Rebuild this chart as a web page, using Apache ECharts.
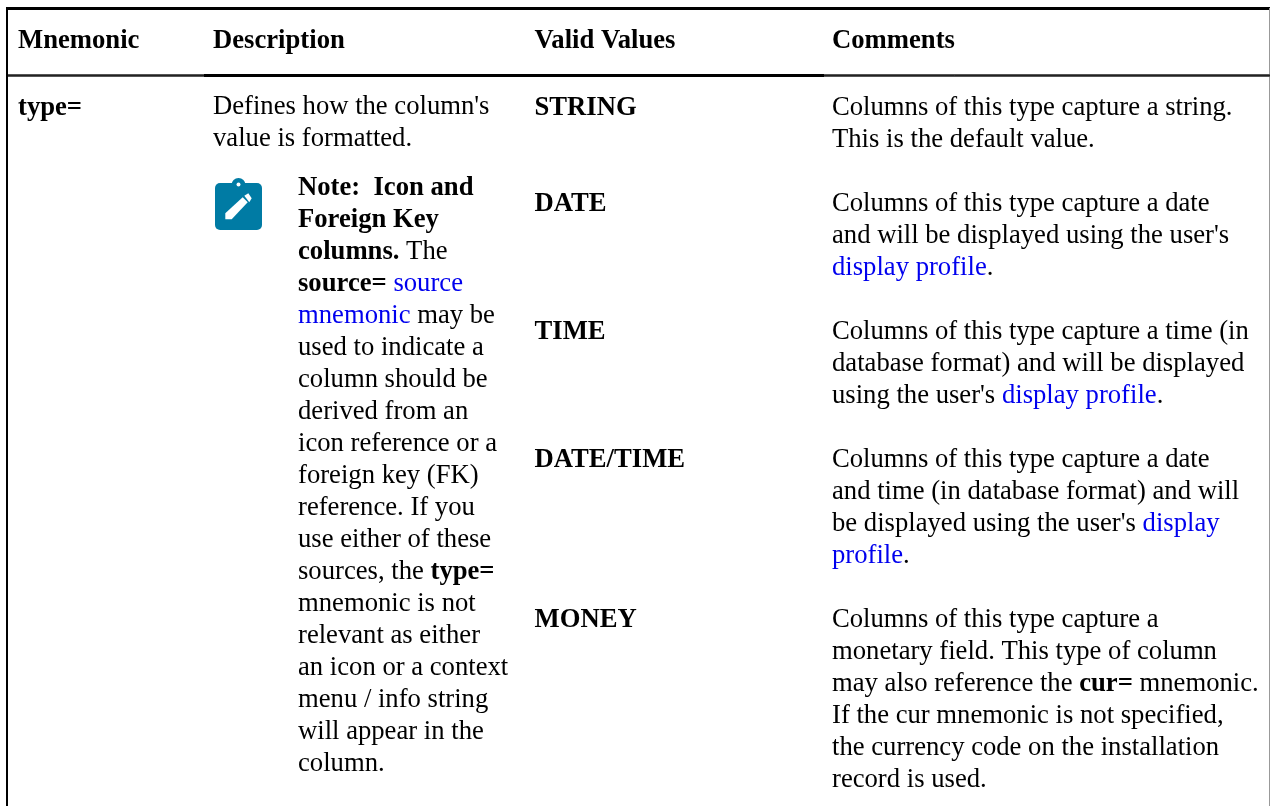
<!DOCTYPE html>
<html>
<head>
<meta charset="utf-8">
<style>
html, body { margin: 0; padding: 0; background: #fff; }
#chart { width: 1270px; height: 806px; }
</style>
<script src="https://cdn.jsdelivr.net/npm/echarts@6/dist/echarts.min.js"></script>
</head>
<body>
<div id="chart"></div>
<script>
var headers = ['Mnemonic', 'Description', 'Valid Values', 'Comments'];
var mnemonicLines = ['{b|type=}'];
var descriptionLines = ["Defines how the column's", 'value is formatted.'];
var noteLines = [
  '{b|Note:  Icon and}', '{b|Foreign Key}', '{b|columns.} The', '{b|source=} {a|source}',
  '{a|mnemonic} may be', 'used to indicate a', 'column should be', 'derived from an',
  'icon reference or a', 'foreign key (FK)', 'reference. If you', 'use either of these',
  'sources, the {b|type=}', 'mnemonic is not', 'relevant as either', 'an icon or a context',
  'menu / info string', 'will appear in the', 'column.'
];
var validValues = ['STRING', 'DATE', 'TIME', 'DATE/TIME', 'MONEY'];
var comments = [
  ['Columns of this type capture a string.', 'This is the default value.'],
  ['Columns of this type capture a date', "and will be displayed using the user's", '{a|display profile}.'],
  ['Columns of this type capture a time (in', 'database format) and will be displayed', "using the user's {a|display profile}."],
  ['Columns of this type capture a date', 'and time (in database format) and will', "be displayed using the user's {a|display}", '{a|profile}.'],
  ['Columns of this type capture a', 'monetary field. This type of column', 'may also reference the {b|cur=} mnemonic.', 'If the cur mnemonic is not specified,', 'the currency code on the installation', 'record is used.']
];

var FONT = '"Liberation Serif", "Times New Roman", serif';
var SIZE = 26.67;
var LINE = 32;
var colX = [18, 213, 534.5, 832];
var rowY = [108, 204, 332, 460, 620];
var elements = [];

function addLine(x, y, str) {
  elements.push({
    type: 'text',
    x: x,
    y: y,
    style: {
      text: str,
      verticalAlign: 'middle',
      align: 'left',
      fill: '#000',
      font: SIZE + 'px ' + FONT,
      rich: {
        b: { font: 'bold ' + SIZE + 'px ' + FONT, fill: '#000' },
        a: { font: SIZE + 'px ' + FONT, fill: '#0000ee' }
      }
    }
  });
}
function addBlock(x, y, lines) {
  lines.forEach(function (l, i) { addLine(x, y + i * LINE, l); });
}
function addRule(x1, y1, x2, y2, w, color) {
  elements.push({
    type: 'line',
    shape: { x1: x1, y1: y1, x2: x2, y2: y2 },
    style: { stroke: color, lineWidth: w }
  });
}

// borders
addRule(6, 8.5, 1270, 8.5, 3, '#000');
addRule(7, 7, 7, 806, 2, '#000');
addRule(1269.5, 8, 1269.5, 806, 1, '#999');
// header rule is softer outside the middle columns
addRule(8, 75.5, 1270, 75.5, 3, '#555');
addRule(8, 75.5, 1270, 75.5, 1, '#222');
addRule(204, 75.5, 824, 75.5, 3, '#000');

// header row
headers.forEach(function (h, i) {
  addLine(colX[i], 41, '{b|' + h + '}');
});

addBlock(colX[0], rowY[0], mnemonicLines);
addBlock(colX[1], rowY[0] - 1, descriptionLines);
addBlock(298, 188, noteLines);

validValues.forEach(function (v, i) {
  addLine(colX[2], rowY[i], '{b|' + v + '}');
  addBlock(colX[3], rowY[i], comments[i]);
});

// note icon
elements.push({ type: 'circle', shape: { cx: 238.5, cy: 185, r: 7 }, style: { fill: '#007ba4' } });
elements.push({ type: 'rect', shape: { x: 215, y: 183, width: 47, height: 47, r: 5 }, style: { fill: '#007ba4' } });
elements.push({ type: 'circle', shape: { cx: 238.5, cy: 184.5, r: 2 }, style: { fill: '#fff' } });
elements.push({ type: 'polygon', shape: { points: [[225.3, 213.3], [242.7, 197.3], [247.7, 202.3], [231.7, 219.3], [225.3, 219.3]] }, style: { fill: '#fff' } });
elements.push({ type: 'polygon', shape: { points: [[244.3, 195.7], [248.3, 193.3], [251.7, 198.3], [249.3, 202.3]] }, style: { fill: '#fff' } });

var myChart = echarts.init(document.getElementById('chart'), null, { renderer: 'canvas' });
myChart.setOption({
  backgroundColor: '#fff',
  animation: false,
  graphic: { elements: elements }
});
</script>
</body>
</html>
